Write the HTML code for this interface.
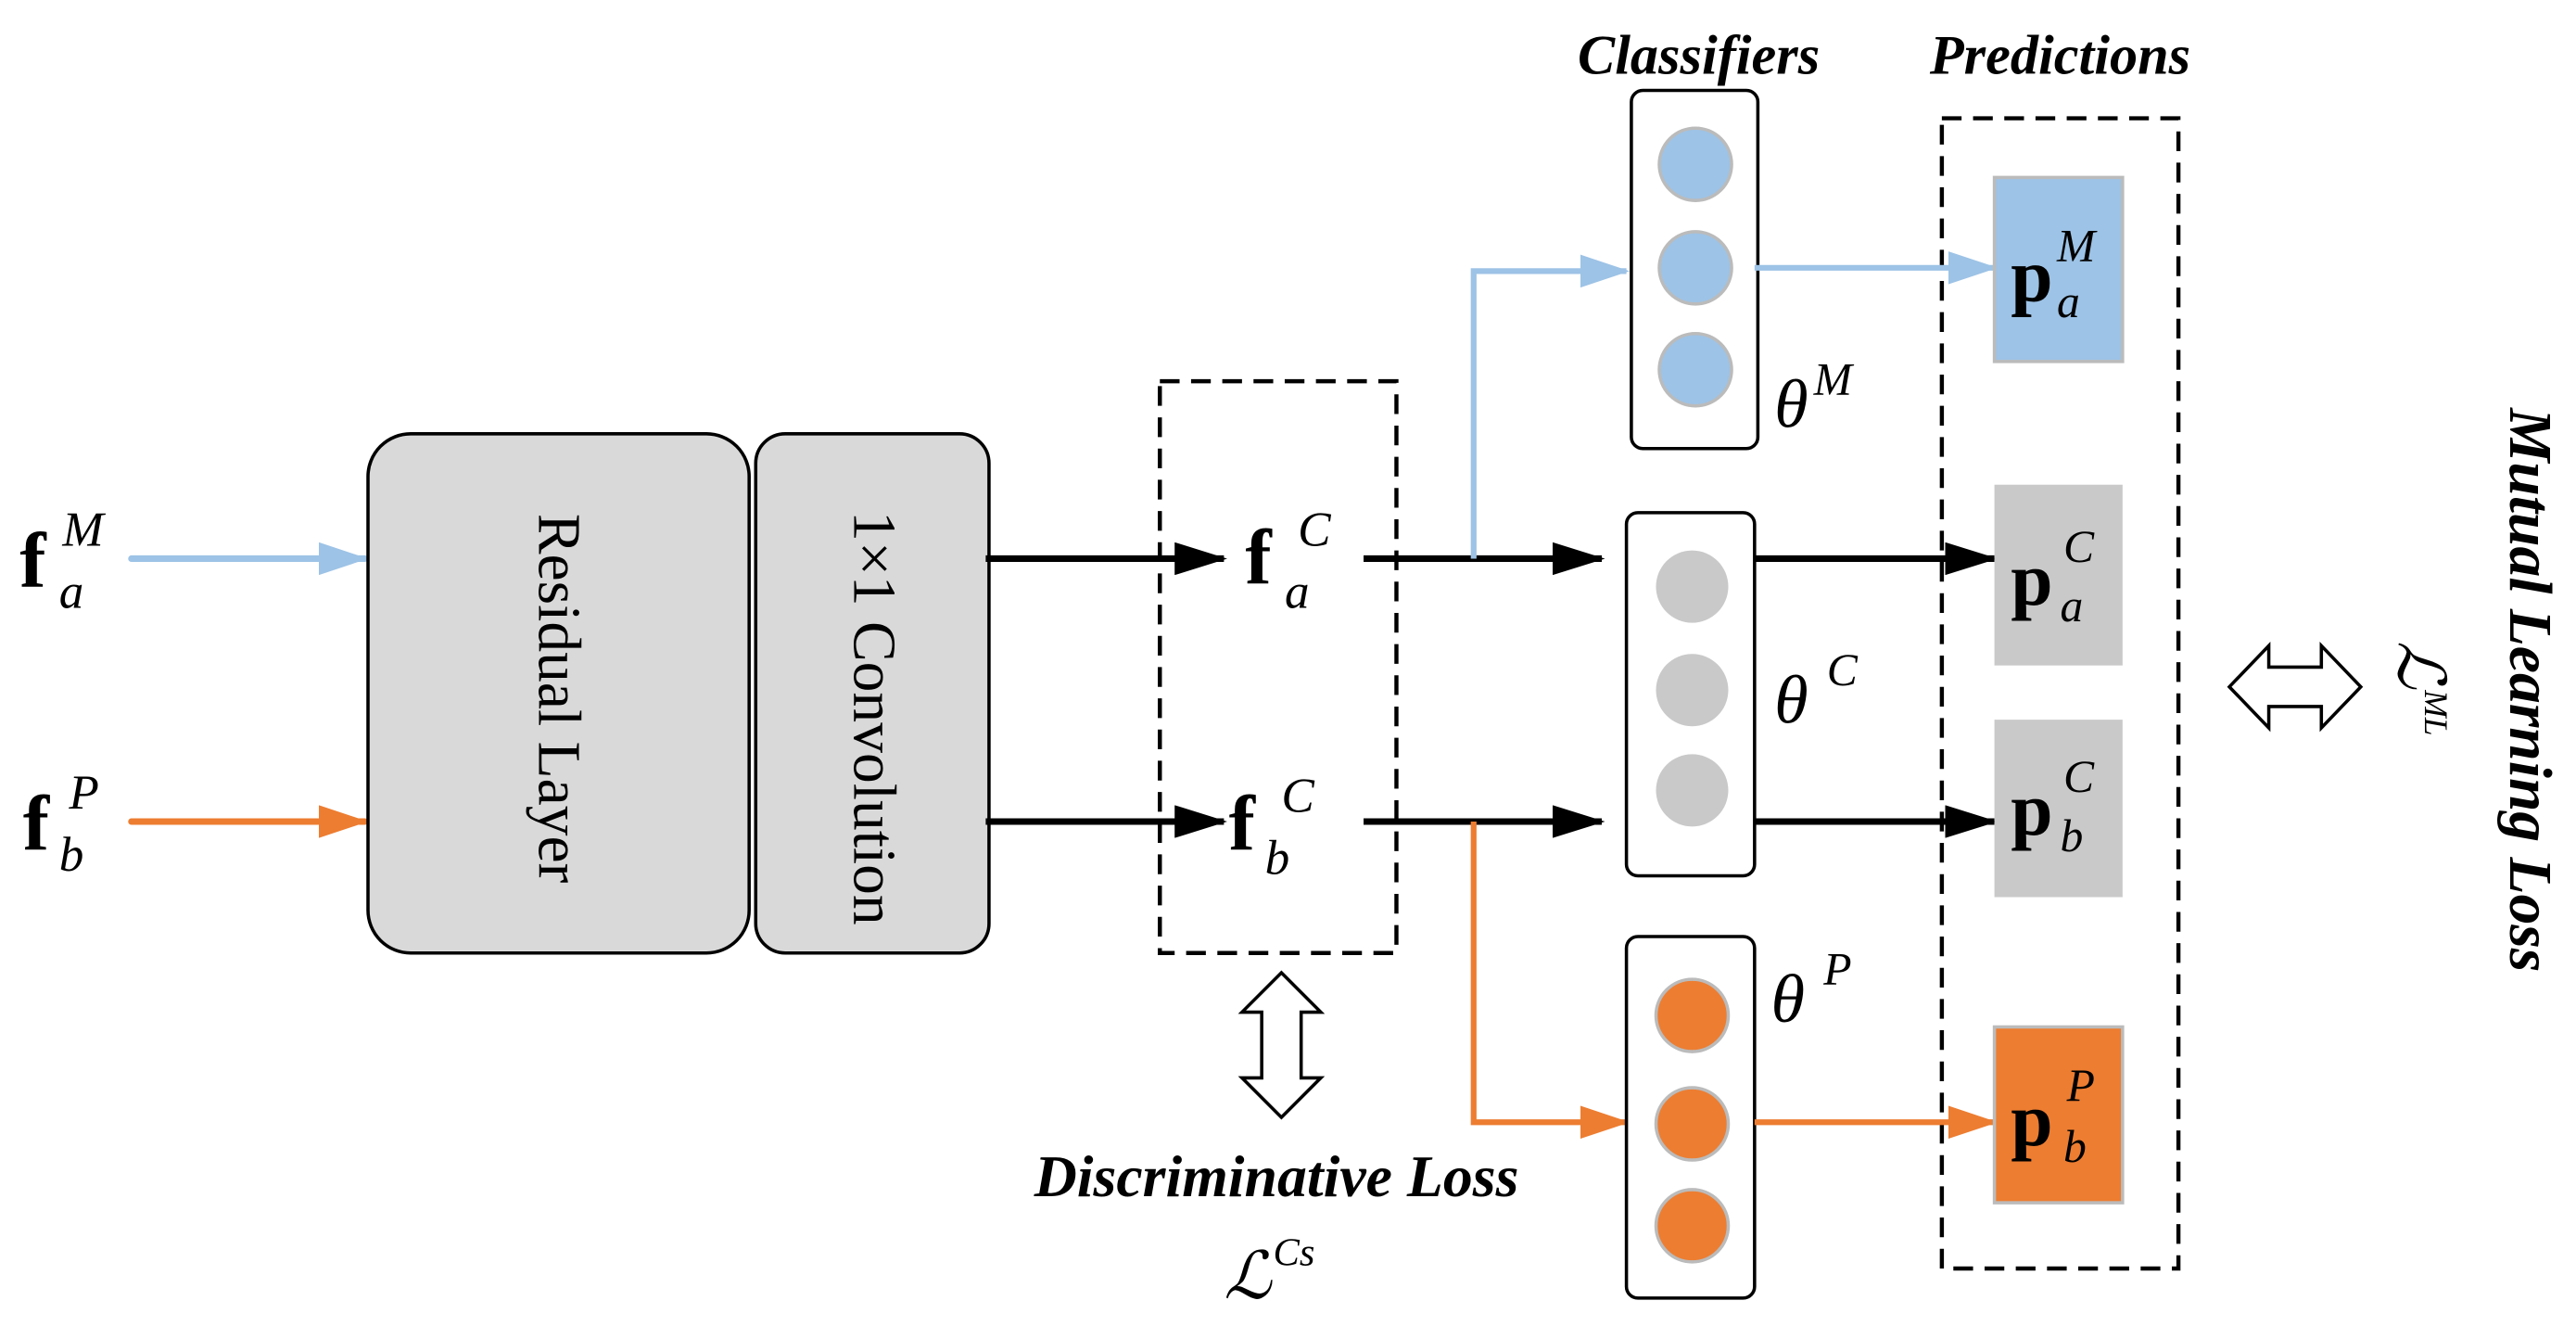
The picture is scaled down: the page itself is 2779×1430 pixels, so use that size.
<!DOCTYPE html>
<html><head><meta charset="utf-8"><style>html,body{margin:0;padding:0;background:#fff}svg{display:block}svg text{font-family:"Liberation Serif","DejaVu Serif",serif}</style></head>
<body>
<svg width="2779" height="1430" viewBox="0 0 1568 807" preserveAspectRatio="none" xmlns="http://www.w3.org/2000/svg">
<defs>
<marker id="ab" markerWidth="32" markerHeight="20" refX="30" refY="10" orient="auto" markerUnits="userSpaceOnUse"><path d="M0,0 L32,10 L0,20 Z" fill="#000"/></marker>
<marker id="abl" markerWidth="30" markerHeight="20" refX="28" refY="10" orient="auto" markerUnits="userSpaceOnUse"><path d="M0,0 L30,10 L0,20 Z" fill="#9dc3e6"/></marker>
<marker id="aor" markerWidth="30" markerHeight="20" refX="28" refY="10" orient="auto" markerUnits="userSpaceOnUse"><path d="M0,0 L30,10 L0,20 Z" fill="#ed7d31"/></marker>
</defs>

<!-- inputs -->
<text x="12" y="357" font-size="48" font-weight="bold">f</text>
<text x="38" y="332" font-size="30" font-style="italic">M</text>
<text x="36" y="370" font-size="30" font-style="italic">a</text>
<text x="14" y="517" font-size="48" font-weight="bold">f</text>
<text x="42" y="492" font-size="30" font-style="italic">P</text>
<text x="36" y="530" font-size="30" font-style="italic">b</text>
<line x1="80" y1="340" x2="222" y2="340" stroke="#9dc3e6" stroke-width="4" stroke-linecap="round" marker-end="url(#abl)"/>
<line x1="80" y1="500" x2="222" y2="500" stroke="#ed7d31" stroke-width="4" stroke-linecap="round" marker-end="url(#aor)"/>

<!-- residual & conv -->
<rect x="224" y="264" width="232" height="316" rx="26" fill="#d9d9d9" stroke="#000" stroke-width="2"/>
<rect x="460" y="264" width="142" height="316" rx="18" fill="#d9d9d9" stroke="#000" stroke-width="2"/>
<text transform="translate(328,425) rotate(90)" text-anchor="middle" font-size="37">Residual Layer</text>
<text transform="translate(520,437) rotate(90)" text-anchor="middle" font-size="37">1×1 Convolution</text>

<line x1="600" y1="340" x2="745" y2="340" stroke="#000" stroke-width="4" marker-end="url(#ab)"/>
<line x1="600" y1="500" x2="745" y2="500" stroke="#000" stroke-width="4" marker-end="url(#ab)"/>

<!-- fC dashed box -->
<rect x="706" y="232" width="144" height="348" fill="none" stroke="#000" stroke-width="2.5" stroke-dasharray="12,7"/>
<text x="758" y="355" font-size="48" font-weight="bold">f</text>
<text x="790" y="332" font-size="30" font-style="italic">C</text>
<text x="782" y="370" font-size="30" font-style="italic">a</text>
<text x="748" y="517" font-size="48" font-weight="bold">f</text>
<text x="780" y="494" font-size="30" font-style="italic">C</text>
<text x="770" y="532" font-size="30" font-style="italic">b</text>

<!-- vertical double arrow -->
<path d="M780,592 L804,616 L792,616 L792,656 L804,656 L780,680 L756,656 L768,656 L768,616 L756,616 Z" fill="#fff" stroke="#000" stroke-width="2"/>
<text x="777" y="728" text-anchor="middle" font-size="36" font-weight="bold" font-style="italic">Discriminative Loss</text>
<text x="745" y="790" font-size="40" font-style="italic">ℒ</text>
<text x="775" y="770" font-size="24" font-style="italic">Cs</text>

<!-- branches -->
<line x1="830" y1="340" x2="975" y2="340" stroke="#000" stroke-width="4" marker-end="url(#ab)"/>
<line x1="830" y1="500" x2="975" y2="500" stroke="#000" stroke-width="4" marker-end="url(#ab)"/>
<polyline points="897,340 897,165 990,165" fill="none" stroke="#9dc3e6" stroke-width="3.5" marker-end="url(#abl)"/>
<polyline points="897,500 897,683 990,683" fill="none" stroke="#ed7d31" stroke-width="3.5" marker-end="url(#aor)"/>

<!-- classifiers -->
<text x="1034" y="45" text-anchor="middle" font-size="34" font-weight="bold" font-style="italic">Classifiers</text>
<text x="1254" y="45" text-anchor="middle" font-size="34" font-weight="bold" font-style="italic">Predictions</text>
<rect x="993" y="55" width="77" height="218" rx="7" fill="#fff" stroke="#000" stroke-width="2"/>
<rect x="990" y="312" width="78" height="221" rx="7" fill="#fff" stroke="#000" stroke-width="2"/>
<rect x="990" y="570" width="78" height="220" rx="7" fill="#fff" stroke="#000" stroke-width="2"/>
<g stroke="#bbb" stroke-width="2">
<circle cx="1032" cy="100" r="22" fill="#9dc3e6"/><circle cx="1032" cy="163" r="22" fill="#9dc3e6"/><circle cx="1032" cy="225" r="22" fill="#9dc3e6"/>
<circle cx="1030" cy="357" r="22" fill="#c9c9c9" stroke="none"/><circle cx="1030" cy="420" r="22" fill="#c9c9c9" stroke="none"/><circle cx="1030" cy="481" r="22" fill="#c9c9c9" stroke="none"/>
<circle cx="1030" cy="618" r="22" fill="#ed7d31"/><circle cx="1030" cy="684" r="22" fill="#ed7d31"/><circle cx="1030" cy="746" r="22" fill="#ed7d31"/>
</g>
<text x="1080" y="260" font-size="42" font-style="italic">θ</text><text x="1104" y="240" font-size="28" font-style="italic">M</text>
<text x="1080" y="440" font-size="42" font-style="italic">θ</text><text x="1112" y="417" font-size="28" font-style="italic">C</text>
<text x="1078" y="622" font-size="42" font-style="italic">θ</text><text x="1110" y="599" font-size="28" font-style="italic">P</text>

<!-- predictions -->
<rect x="1182" y="72" width="144" height="700" fill="none" stroke="#000" stroke-width="2.5" stroke-dasharray="12,7"/>
<line x1="1068" y1="163" x2="1214" y2="163" stroke="#9dc3e6" stroke-width="3.5" marker-end="url(#abl)"/>
<line x1="1068" y1="340" x2="1214" y2="340" stroke="#000" stroke-width="4" marker-end="url(#ab)"/>
<line x1="1068" y1="500" x2="1214" y2="500" stroke="#000" stroke-width="4" marker-end="url(#ab)"/>
<line x1="1068" y1="683" x2="1214" y2="683" stroke="#ed7d31" stroke-width="3.5" marker-end="url(#aor)"/>
<rect x="1214" y="108" width="78" height="112" fill="#9dc3e6" stroke="#bbb" stroke-width="2"/>
<rect x="1214" y="295" width="78" height="110" fill="#c9c9c9"/>
<rect x="1214" y="438" width="78" height="108" fill="#c9c9c9"/>
<rect x="1214" y="625" width="78" height="107" fill="#ed7d31" stroke="#bbb" stroke-width="2"/>
<g>
<text x="1224" y="183" font-size="46" font-weight="bold">p</text><text x="1252" y="159" font-size="28" font-style="italic">M</text><text x="1252" y="193" font-size="28" font-style="italic">a</text>
<text x="1224" y="368" font-size="46" font-weight="bold">p</text><text x="1256" y="342" font-size="28" font-style="italic">C</text><text x="1254" y="378" font-size="28" font-style="italic">a</text>
<text x="1224" y="508" font-size="46" font-weight="bold">p</text><text x="1256" y="482" font-size="28" font-style="italic">C</text><text x="1254" y="518" font-size="28" font-style="italic">b</text>
<text x="1224" y="697" font-size="46" font-weight="bold">p</text><text x="1258" y="670" font-size="28" font-style="italic">P</text><text x="1256" y="707" font-size="28" font-style="italic">b</text>
</g>

<!-- horizontal double arrow -->
<path d="M1357,418 L1381,393 L1381,406 L1413,406 L1413,393 L1437,418 L1413,443 L1413,430 L1381,430 L1381,443 Z" fill="#fff" stroke="#000" stroke-width="2"/>
<g transform="translate(1458,420) rotate(90)">
<text x="-30" y="-2" font-size="40" font-style="italic">ℒ</text>
<text x="0" y="-18" font-size="20" font-style="italic">ML</text>
</g>
<text transform="translate(1528,420) rotate(90)" text-anchor="middle" font-size="37" font-weight="bold" font-style="italic">Mutual Learning Loss</text>
</svg>
</body></html>
